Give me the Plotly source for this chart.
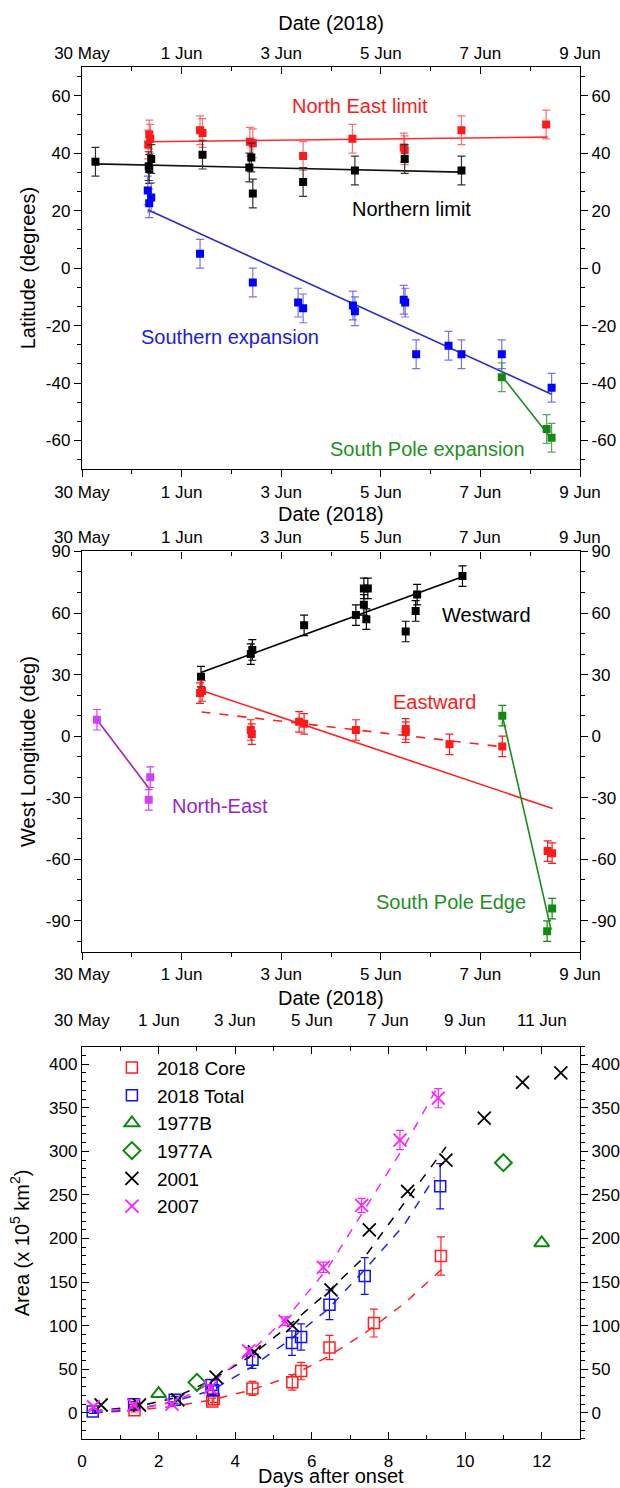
import plotly.graph_objects as go

FONT = "Liberation Sans, Arial, Helvetica, sans-serif"

# ---------------- data ----------------
date_labels = ["30 May", "1 Jun", "3 Jun", "5 Jun", "7 Jun", "9 Jun", "11 Jun"]
lat_ticks = [-60, -40, -20, 0, 20, 40, 60]
lon_ticks = [-90, -60, -30, 0, 30, 60, 90]
area_ticks = [0, 50, 100, 150, 200, 250, 300, 350, 400]

# Panel 1: latitude (deg) vs days since 30 May 2018 00:00
ne_day = [1.33, 1.35, 1.37, 2.37, 2.42, 3.37, 3.43, 4.44, 5.43, 6.46, 6.48, 7.62, 9.32]
ne_lat = [43.0, 46.5, 45.0, 48.0, 47.0, 44.0, 43.5, 39.0, 45.0, 42.0, 41.0, 48.0, 50.0]
ne_fit_day = [1.35, 9.35]
ne_fit_lat = [44.0, 45.6]

nl_day = [0.27, 1.34, 1.35, 1.39, 2.42, 3.36, 3.40, 3.43, 4.44, 5.48, 6.48, 7.62]
nl_lat = [37.0, 35.5, 34.5, 38.0, 39.5, 35.0, 38.5, 26.0, 30.0, 34.0, 38.0, 34.0]
nl_fit_day = [0.27, 7.62]
nl_fit_lat = [36.3, 33.4]

se_day = [1.32, 1.35, 1.39, 2.37, 3.43, 4.34, 4.44, 5.44, 5.48, 6.46, 6.49, 6.71, 7.36, 7.62, 8.43, 9.43]
se_lat = [27.0, 22.6, 24.6, 5.0, -5.0, -12.0, -14.0, -13.0, -15.0, -11.0, -12.0, -30.0, -27.0, -30.0, -30.0, -41.6]
se_fit_day = [1.32, 9.43]
se_fit_lat = [20.3, -43.9]

sp_day = [8.43, 9.33, 9.43]
sp_lat = [-38.0, -56.0, -59.0]
sp_fit_day = [8.43, 9.43]
sp_fit_lat = [-37.5, -59.5]

lat_err = 5.0

# Panel 2: west longitude (deg) vs days since 30 May 2018
west_day = [2.39, 3.39, 3.42, 4.46, 5.50, 5.66, 5.66, 5.74, 5.71, 6.50, 6.70, 6.73, 7.64]
west_lon = [29.0, 40.0, 42.0, 54.0, 59.0, 64.0, 72.0, 72.0, 57.0, 51.0, 61.0, 69.0, 78.0]
west_fit_day = [2.39, 7.64]
west_fit_lon = [31.0, 77.7]

east_day = [2.37, 2.41, 3.39, 3.41, 4.36, 4.46, 5.50, 6.50, 6.50, 7.38, 8.44, 9.35, 9.44]
east_lon = [21.0, 22.0, 3.0, 1.0, 7.0, 6.0, 3.0, 3.5, 2.0, -4.0, -5.0, -56.0, -57.0]
east_fit_day = [2.40, 9.45]
east_fit_lon = [22.3, -35.3]
east_fit2_day = [2.40, 8.45]
east_fit2_lon = [11.8, -5.2]

nep_day = [0.30, 1.34, 1.37]
nep_lon = [8.0, -31.0, -20.0]
nep_fit_day = [0.30, 1.35]
nep_fit_lon = [8.0, -25.6]

spe_day = [8.44, 9.34, 9.44]
spe_lon = [10.0, -95.0, -84.0]
spe_fit_day = [8.44, 9.42]
spe_fit_lon = [10.0, -94.4]

lon_err = 5.0

# Panel 3: area (x10^5 km^2) vs days after onset
core_day = [1.37, 3.40, 3.44, 4.45, 5.49, 5.72, 6.46, 7.62, 9.37]
core_area = [3.0, 13.0, 16.0, 28.0, 35.0, 48.0, 75.0, 103.0, 180.0]
core_err = [2.0, 4.0, 4.0, 8.0, 9.0, 10.0, 14.0, 16.0, 22.0]
core_fit_day = [0.3, 1.4, 2.4, 3.4, 4.4, 5.4, 6.4, 7.4, 8.4, 9.4]
core_fit_area = [0.0, 3.0, 7.5, 15.0, 26.0, 41.0, 64.0, 92.0, 125.0, 165.0]

total_day = [0.28, 1.36, 2.42, 3.38, 3.42, 4.45, 5.48, 5.72, 6.46, 7.38, 9.35]
total_area = [1.5, 10.0, 15.0, 32.0, 26.0, 61.0, 80.0, 87.0, 124.0, 157.0, 260.0]
total_err = [2.0, 3.0, 4.0, 6.0, 5.0, 10.0, 14.0, 15.0, 17.0, 21.0, 26.0]
total_fit_day = [0.3, 1.4, 2.4, 3.4, 4.4, 5.4, 6.4, 7.4, 8.4, 9.2]
total_fit_area = [0.0, 4.0, 13.0, 26.0, 52.0, 83.0, 118.0, 165.0, 215.0, 270.0]

b1977_day = [2.0, 12.0]
b1977_area = [22.0, 195.0]
a1977_day = [3.0, 11.0]
a1977_area = [35.0, 287.0]

y2001_day = [0.5, 1.5, 2.5, 3.5, 4.5, 5.5, 6.5, 7.5, 8.5, 9.5, 10.5, 11.5, 12.5]
y2001_area = [9.0, 9.0, 15.0, 41.0, 70.0, 100.0, 141.0, 210.0, 254.0, 290.0, 338.0, 379.0, 390.0]
y2001_fit_day = [0.3, 1.4, 2.4, 3.4, 4.4, 5.4, 6.4, 7.4, 8.4, 9.5]
y2001_fit_area = [2.0, 7.0, 17.0, 38.0, 65.0, 100.0, 138.0, 180.0, 240.0, 305.0]

y2007_day = [0.3, 1.35, 2.35, 3.35, 4.35, 5.3, 6.3, 7.3, 8.3, 9.3]
y2007_area = [7.0, 9.0, 10.0, 29.0, 71.0, 105.0, 167.0, 238.0, 313.0, 361.0]
y2007_err = [2.0, 2.0, 2.0, 3.0, 4.0, 5.0, 6.0, 8.0, 11.0, 11.0]
y2007_fit_day = [0.3, 1.4, 2.4, 3.4, 4.4, 5.4, 6.4, 7.4, 8.4, 9.3]
y2007_fit_area = [2.0, 5.0, 12.0, 35.0, 70.0, 112.0, 165.0, 235.0, 305.0, 375.0]

# ---------------- figure ----------------
fig = go.Figure()


def pts(x, y, color, xa, ya, err, errcolor=None, symbol="square", size=8,
        name=None, legend=False, err_array=None, line_w=0):
    ey = dict(type="data", array=err_array, visible=True) if err_array is not None \
        else dict(type="constant", value=err, visible=True)
    ey.update(color=errcolor or color, thickness=1.2, width=4)
    marker = dict(symbol=symbol, size=size, color=color)
    if line_w:
        marker["line"] = dict(color=color, width=line_w)
    fig.add_trace(go.Scatter(x=x, y=y, mode="markers", marker=marker, error_y=ey,
                             xaxis=xa, yaxis=ya, name=name, showlegend=legend,
                             hoverinfo="x+y"))


def fit(x, y, color, xa, ya, dash="solid", width=1.6):
    fig.add_trace(go.Scatter(x=x, y=y, mode="lines", line=dict(color=color, width=width, dash=dash),
                             xaxis=xa, yaxis=ya, showlegend=False, hoverinfo="skip"))


RED = "#ff1a1a"
BLUE = "#0000ff"
GREEN = "#118a11"

# Panel 1
fit(ne_fit_day, ne_fit_lat, "#ff2a2a", "x", "y")
fit(nl_fit_day, nl_fit_lat, "#111111", "x", "y")
fit(se_fit_day, se_fit_lat, "#2b2bc8", "x", "y")
fit(sp_fit_day, sp_fit_lat, "#1a8a1a", "x", "y")
pts(ne_day, ne_lat, RED, "x", "y", lat_err, errcolor="rgba(255,60,60,0.75)")
pts(nl_day, nl_lat, "#000000", "x", "y", lat_err, errcolor="#333333")
pts(se_day, se_lat, BLUE, "x", "y", lat_err, errcolor="rgba(70,70,230,0.75)")
pts(sp_day, sp_lat, GREEN, "x", "y", lat_err, errcolor="rgba(30,140,30,0.75)")

# Panel 2
fit(west_fit_day, west_fit_lon, "#000000", "x2", "y2")
fit(east_fit_day, east_fit_lon, "#ff2020", "x2", "y2")
fit(east_fit2_day, east_fit2_lon, "#ff2020", "x2", "y2", dash="dash")
fit(nep_fit_day, nep_fit_lon, "#9a22c8", "x2", "y2")
fit(spe_fit_day, spe_fit_lon, "#1a8a1a", "x2", "y2")
pts(west_day, west_lon, "#000000", "x2", "y2", lon_err)
pts(east_day, east_lon, RED, "x2", "y2", lon_err)
pts(nep_day, nep_lon, "#d040f8", "x2", "y2", lon_err)
pts(spe_day, spe_lon, GREEN, "x2", "y2", lon_err)

# Panel 3 dashed fits
fit(core_fit_day, core_fit_area, "#ff2020", "x3", "y3", dash="dash", width=1.5)
fit(total_fit_day, total_fit_area, "#2020ff", "x3", "y3", dash="dash", width=1.5)
fit(y2001_fit_day, y2001_fit_area, "#000000", "x3", "y3", dash="dash", width=1.5)
fit(y2007_fit_day, y2007_fit_area, "#ff20ff", "x3", "y3", dash="dash", width=1.5)

# Panel 3 points
pts(core_day, core_area, "#ff2020", "x3", "y3", None, err_array=core_err,
    symbol="square-open", size=11, name="2018 Core", legend=True, line_w=1.5)
pts(total_day, total_area, "#1010ff", "x3", "y3", None, err_array=total_err,
    symbol="square-open", size=11, name="2018 Total", legend=True, line_w=1.5)
fig.add_trace(go.Scatter(x=b1977_day, y=b1977_area, mode="markers", name="1977B",
                         marker=dict(symbol="triangle-up-open", size=13, color="#0a8a0a",
                                     line=dict(width=2, color="#0a8a0a")),
                         xaxis="x3", yaxis="y3"))
fig.add_trace(go.Scatter(x=a1977_day, y=a1977_area, mode="markers", name="1977A",
                         marker=dict(symbol="diamond-open", size=13, color="#0a8a0a",
                                     line=dict(width=2, color="#0a8a0a")),
                         xaxis="x3", yaxis="y3"))
fig.add_trace(go.Scatter(x=y2001_day, y=y2001_area, mode="markers", name="2001",
                         marker=dict(symbol="x-thin-open", size=13, color="#000000",
                                     line=dict(width=1.8, color="#000000")),
                         xaxis="x3", yaxis="y3"))
fig.add_trace(go.Scatter(x=y2007_day, y=y2007_area, mode="markers", name="2007",
                         marker=dict(symbol="x-thin-open", size=13, color="#ff20ff",
                                     line=dict(width=1.8, color="#ff20ff")),
                         error_y=dict(type="data", array=y2007_err, color="#ff20ff",
                                      thickness=1.2, width=4),
                         xaxis="x3", yaxis="y3"))

# empty traces so that the top / right axes are created
for xa, ya in (("x4", "y4"), ("x5", "y5"), ("x6", "y6")):
    fig.add_trace(go.Scatter(x=[], y=[], xaxis=xa, yaxis=ya, showlegend=False,
                             hoverinfo="skip"))

# ---------------- layout ----------------
D1 = [0.7068, 1.0]
D2 = [0.3552, 0.6469]
D3 = [0.0, 0.2859]

tickfont = dict(family=FONT, size=17, color="#000000")
titlefont = dict(family=FONT, size=20, color="#000000")

date_vals_10 = list(range(0, 11, 2))
date_vals_13 = list(range(0, 13, 2))


def labels(vals):
    return [str(v) for v in vals]


def minor(dt, side):
    return dict(dtick=dt, ticks=side, ticklen=4, tickcolor="#000000", tickwidth=1.2)


def base_axis(**kw):
    d = dict(showline=True, linecolor="#000000", linewidth=1.3, showgrid=False,
             zeroline=False, tickfont=tickfont, ticks="outside", ticklen=7,
             tickwidth=1.3, tickcolor="#000000", automargin=False)
    d.update(kw)
    return d


layout = dict(
    width=620, height=1488,
    margin=dict(l=82, r=40, t=67, b=49, autoexpand=False),
    paper_bgcolor="white", plot_bgcolor="white",
    font=dict(family=FONT, color="#000000"),
    showlegend=True,
    legend=dict(x=0.05, y=0.2845, xanchor="left", yanchor="top",
                font=dict(family=FONT, size=19), bgcolor="rgba(0,0,0,0)",
                tracegroupgap=0, itemwidth=40),
)

# Panel 1 axes
layout["xaxis"] = base_axis(anchor="y", range=[0, 10], tickvals=date_vals_10,
                            ticktext=date_labels[:6], minor=minor(1, "outside"))
layout["yaxis"] = base_axis(anchor="x", domain=D1, range=[-70, 70],
                            tickvals=lat_ticks, ticktext=labels(lat_ticks),
                            title=dict(text="Latitude (degrees)", font=titlefont, standoff=4),
                            minor=minor(20 / 3, "outside"))
layout["xaxis4"] = base_axis(anchor="y", overlaying="x", side="top", range=[0, 10],
                             tickvals=date_vals_10, ticktext=date_labels[:6], ticks="inside",
                             title=dict(text="Date (2018)", font=titlefont, standoff=8),
                             minor=minor(1, "inside"))
layout["yaxis4"] = base_axis(anchor="x", overlaying="y", side="right", range=[-70, 70],
                             tickvals=lat_ticks, ticktext=labels(lat_ticks),
                             minor=minor(20 / 3, "outside"))

# Panel 2 axes
layout["xaxis2"] = base_axis(anchor="y2", range=[0, 10], tickvals=date_vals_10,
                             ticktext=date_labels[:6], minor=minor(1, "outside"))
layout["yaxis2"] = base_axis(anchor="x2", domain=D2, range=[-105, 90],
                             tickvals=lon_ticks, ticktext=labels(lon_ticks),
                             title=dict(text="West Longitude (deg)", font=titlefont, standoff=4),
                             minor=minor(10, "outside"))
# top date axis of panel 2: ticks here, labels placed as annotations (tight to axis)
layout["xaxis5"] = base_axis(anchor="y2", overlaying="x2", side="top", range=[0, 10],
                             tickvals=date_vals_10, ticktext=date_labels[:6], ticks="inside",
                             showticklabels=False, minor=minor(1, "inside"))
layout["yaxis5"] = base_axis(anchor="x2", overlaying="y2", side="right", range=[-105, 90],
                             tickvals=lon_ticks, ticktext=labels(lon_ticks),
                             minor=minor(10, "outside"))

# Panel 3 axes
layout["xaxis3"] = base_axis(anchor="y3", range=[0, 13], dtick=2, ticks="inside",
                             ticklabelstandoff=6, minor=minor(1, "inside"))
layout["yaxis3"] = base_axis(anchor="x3", domain=D3, range=[-30, 420],
                             tickvals=area_ticks, ticktext=labels(area_ticks), ticks="inside",
                             title=dict(text="Area (x 10<sup>5</sup> km<sup>2</sup>)",
                                        font=titlefont, standoff=14),
                             minor=minor(10, "inside"))
layout["xaxis6"] = base_axis(anchor="y3", overlaying="x3", side="top", range=[0, 13],
                             tickvals=date_vals_13, ticktext=date_labels, ticks="inside",
                             showticklabels=False, minor=minor(1, "inside"))
layout["yaxis6"] = base_axis(anchor="x3", overlaying="y3", side="right", range=[-30, 420],
                             tickvals=area_ticks, ticktext=labels(area_ticks),
                             minor=minor(10, "outside"))

ann_font = lambda c: dict(family=FONT, size=20, color=c)
annotations = [
    dict(text="Date (2018)", x=0.5, y=0.6742, xref="paper", yref="paper", yanchor="middle",
         showarrow=False, font=titlefont),
    dict(text="Date (2018)", x=0.5, y=0.3214, xref="paper", yref="paper", yanchor="middle",
         showarrow=False, font=titlefont),
    dict(text="Days after onset", x=0.5, y=-0.0357, xref="paper", yref="paper", yanchor="bottom",
         showarrow=False, font=titlefont, borderpad=0),
    dict(text="North East limit", x=5.58, y=56.6, xref="x", yref="y", showarrow=False, font=ann_font("#ff1a1a")),
    dict(text="Northern limit", x=6.62, y=20.5, xref="x", yref="y", showarrow=False, font=ann_font("#000000")),
    dict(text="Southern expansion", x=2.97, y=-23.9, xref="x", yref="y", showarrow=False, font=ann_font("#1a1ae6")),
    dict(text="South Pole expansion", x=6.93, y=-62.8, xref="x", yref="y", showarrow=False, font=ann_font("#1f8f1f")),
    dict(text="Westward", x=8.13, y=59.1, xref="x2", yref="y2", showarrow=False, font=ann_font("#000000")),
    dict(text="Eastward", x=7.07, y=16.7, xref="x2", yref="y2", showarrow=False, font=ann_font("#ff1a1a")),
    dict(text="North-East", x=2.77, y=-34.1, xref="x2", yref="y2", showarrow=False, font=ann_font("#9a22c8")),
    dict(text="South Pole Edge", x=7.41, y=-81.0, xref="x2", yref="y2", showarrow=False, font=ann_font("#1f8f1f")),
]
# date tick labels of the top axes of panels 2 and 3
for v, t in zip(date_vals_10, date_labels):
    annotations.append(dict(text=t, x=v, xref="x5", y=0.6574, yref="paper", yanchor="middle",
                            showarrow=False, font=tickfont))
for v, t in zip(date_vals_13, date_labels):
    annotations.append(dict(text=t, x=v, xref="x6", y=0.3047, yref="paper", yanchor="middle",
                            showarrow=False, font=tickfont))
layout["annotations"] = annotations

fig.update_layout(**layout)
fig.write_html("out.html")
